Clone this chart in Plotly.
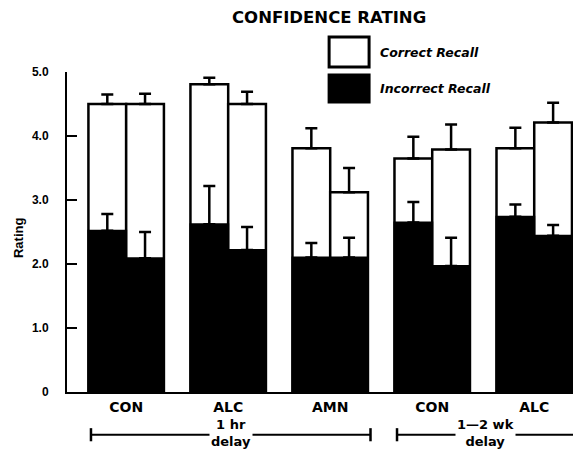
import plotly.graph_objects as go

# Groups along the x axis and the two delay conditions they belong to
groups = ["CON", "ALC", "AMN", "CON", "ALC"]
delay_labels = ["1 hr<br>delay", "1\u20142 wk<br>delay"]
delay_members = [[0, 1, 2], [3, 4]]

# Mean confidence ratings (two bars per group) and their standard errors
correct_mean = [4.50, 4.50, 4.81, 4.50, 3.81, 3.12, 3.65, 3.79, 3.81, 4.21]
correct_err = [0.15, 0.16, 0.10, 0.19, 0.31, 0.38, 0.34, 0.39, 0.32, 0.31]
incorrect_mean = [2.52, 2.09, 2.62, 2.22, 2.10, 2.10, 2.65, 1.97, 2.74, 2.44]
incorrect_err = [0.26, 0.41, 0.60, 0.36, 0.23, 0.31, 0.32, 0.44, 0.19, 0.17]

y_tickvals = [0, 1, 2, 3, 4, 5]
y_ticktext = ["0", "1.0", "2.0", "3.0", "4.0", "5.0"]

WIDE = "DejaVu Sans, Verdana, sans-serif"
NARROW = "Liberation Sans, Arial, sans-serif"
half = 0.185  # bars sit at group +/- half, each 2*half wide

bar_x = []
for g in range(len(groups)):
    bar_x += [g - half, g + half]


def up_err(values):
    return dict(type="data", array=values, arrayminus=[0] * len(values),
                symmetric=False, color="black", thickness=2.5, width=6)


fig = go.Figure()
fig.add_trace(go.Bar(
    x=bar_x, y=correct_mean, width=2 * half, name="Correct Recall",
    marker=dict(color="white", line=dict(color="black", width=2.5)),
    error_y=up_err(correct_err), showlegend=False,
))
fig.add_trace(go.Bar(
    x=bar_x, y=incorrect_mean, width=2 * half, name="Incorrect Recall",
    marker=dict(color="black", line=dict(color="black", width=2)),
    error_y=up_err(incorrect_err), showlegend=False,
))

shapes = []
annotations = []

# Legend swatches and labels
legend_items = [("Correct Recall", "white", 1.109, 1.016, 1.060),
                ("Incorrect Recall", "black", 0.991, 0.906, 0.950)]
for label, fill, top, bottom, text_y in legend_items:
    shapes.append(dict(type="rect", xref="paper", yref="paper",
                       x0=0.518, x1=0.597, y0=bottom, y1=top,
                       fillcolor=fill, line=dict(color="black", width=3)))
    annotations.append(dict(text=label, xref="paper", yref="paper",
                            x=0.615, y=text_y, xanchor="left",
                            yanchor="middle", showarrow=False,
                            font=dict(family=WIDE, size=12.5, color="black",
                                      style="italic", weight="bold")))

# Delay brackets under the category labels
shift = 0.025
line_y, cap_top, cap_bot = -0.1335, -0.113, -0.154
for label, members in zip(delay_labels, delay_members):
    x0 = members[0] - 2 * half + shift
    x1 = members[-1] + 2 * half + shift
    shapes.append(dict(type="line", xref="x", yref="paper", x0=x0, x1=x1,
                       y0=line_y, y1=line_y, line=dict(color="black", width=2)))
    for xe in (x0, x1):
        shapes.append(dict(type="line", xref="x", yref="paper", x0=xe, x1=xe,
                           y0=cap_bot, y1=cap_top,
                           line=dict(color="black", width=2.5)))
    annotations.append(dict(text=label, xref="x", yref="paper",
                            x=(x0 + x1) / 2, y=line_y + 0.004,
                            xanchor="center", yanchor="middle",
                            showarrow=False, bgcolor="white", borderpad=1,
                            font=dict(family=WIDE, size=13, color="black",
                                      weight="bold")))

# Title and y-axis label
annotations.append(dict(text="CONFIDENCE RATING", xref="paper", yref="paper",
                        x=0.518, y=1.169, xanchor="center", yanchor="middle",
                        showarrow=False,
                        font=dict(family=WIDE, size=16.5, color="black",
                                  weight="bold")))
annotations.append(dict(text="Rating", xref="paper", yref="paper",
                        x=-0.097, y=0.484, xanchor="center", yanchor="middle",
                        textangle=-90, showarrow=False,
                        font=dict(family=NARROW, size=13, color="black",
                                  weight="bold")))

fig.update_layout(
    width=576, height=451,
    margin=dict(l=67, r=3, t=72, b=59),
    barmode="overlay",
    plot_bgcolor="white", paper_bgcolor="white",
    shapes=shapes, annotations=annotations,
    xaxis=dict(range=[-0.58, 4.38], tickvals=list(range(len(groups))),
               ticktext=groups, showline=True, linecolor="black",
               linewidth=2, ticks="", showgrid=False, zeroline=False,
               ticklabelstandoff=1,
               tickfont=dict(family=WIDE, size=14, color="black",
                             weight="bold")),
    yaxis=dict(range=[0, 5], tickvals=y_tickvals, ticktext=y_ticktext,
               showline=True, linecolor="black", linewidth=2,
               ticks="inside", ticklen=10, tickwidth=2, tickcolor="black",
               showgrid=False, zeroline=False, ticklabelstandoff=14,
               tickfont=dict(family=NARROW, size=12, color="black",
                             weight="bold")),
)

fig.write_html("out.html")
